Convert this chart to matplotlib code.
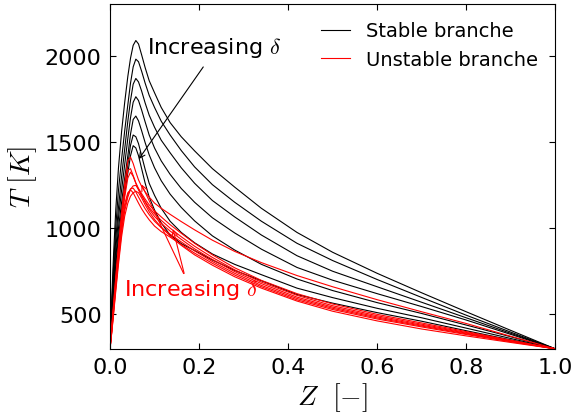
import numpy as np
import matplotlib
matplotlib.use("Agg")
import matplotlib.pyplot as plt

plt.rcParams['mathtext.fontset'] = 'cm'
plt.rcParams['font.family'] = 'DejaVu Sans'

## mixture fraction grid shared by all the flamelets
Z = [0, 0.004, 0.008, 0.013, 0.019, 0.026, 0.033, 0.04, 0.046, 0.052,
     0.058, 0.064, 0.071, 0.079, 0.088, 0.1, 0.115, 0.135, 0.16, 0.19,
     0.23, 0.28, 0.34, 0.42, 0.5, 0.6, 0.7, 0.8, 0.9, 1.0]

## stable branch temperatures (K), highest peak first
T_s1 = [300, 600, 850, 1110, 1350, 1560, 1730, 1880, 1985, 2060,
        2088, 2068, 2005, 1930, 1855, 1785, 1700, 1612, 1530, 1448,
        1345, 1238, 1115, 975, 860, 738, 625, 515, 407, 300]
T_s2 = [300, 560, 780, 1010, 1220, 1400, 1565, 1715, 1840, 1935,
        1980, 1965, 1910, 1840, 1770, 1700, 1620, 1540, 1450, 1355,
        1252, 1150, 1040, 912, 812, 702, 598, 495, 397, 300]
T_s3 = [300, 530, 730, 940, 1120, 1300, 1460, 1620, 1740, 1835,
        1868, 1848, 1795, 1725, 1655, 1585, 1510, 1437, 1350, 1260,
        1160, 1065, 960, 840, 750, 660, 570, 480, 390, 300]
T_s4 = [300, 510, 690, 880, 1060, 1220, 1370, 1520, 1640, 1730,
        1762, 1740, 1685, 1615, 1540, 1465, 1390, 1312, 1230, 1150,
        1060, 972, 878, 772, 698, 620, 545, 467, 384, 300]
T_s5 = [300, 490, 660, 830, 1000, 1150, 1290, 1420, 1545, 1630,
        1650, 1622, 1565, 1495, 1425, 1350, 1275, 1197, 1120, 1042,
        955, 873, 790, 705, 638, 568, 505, 438, 370, 300]
T_s6 = [300, 470, 630, 790, 950, 1100, 1240, 1370, 1480, 1540,
        1530, 1490, 1420, 1340, 1260, 1190, 1115, 1040, 975, 915,
        850, 790, 730, 652, 597, 535, 480, 420, 360, 300]
T_s7 = [300, 455, 605, 760, 915, 1070, 1200, 1320, 1420, 1478,
        1465, 1420, 1345, 1260, 1180, 1105, 1030, 960, 910, 870,
        815, 755, 695, 615, 565, 510, 460, 405, 352, 300]

## unstable branch temperatures (K)
T_u1 = [300, 430, 560, 720, 900, 1090, 1260, 1390, 1412, 1375,
        1325, 1280, 1242, 1210, 1180, 1145, 1115, 1080, 1038, 990,
        930, 865, 800, 725, 660, 585, 515, 447, 373, 300]
T_u2 = [300, 425, 550, 705, 880, 1060, 1220, 1335, 1345, 1305,
        1262, 1230, 1200, 1168, 1135, 1100, 1065, 1020, 970, 912,
        845, 770, 697, 620, 560, 500, 450, 400, 350, 300]
T_u3 = [300, 415, 535, 685, 855, 1030, 1180, 1290, 1325, 1300,
        1260, 1222, 1188, 1155, 1120, 1083, 1045, 1000, 950, 895,
        830, 758, 687, 610, 550, 492, 443, 395, 347, 300]
T_u4 = [300, 400, 510, 650, 810, 975, 1100, 1180, 1225, 1245,
        1248, 1225, 1190, 1150, 1110, 1068, 1028, 983, 935, 880,
        818, 748, 678, 600, 542, 485, 437, 391, 345, 300]
T_u5 = [300, 405, 520, 665, 830, 995, 1120, 1195, 1228, 1232,
        1210, 1180, 1148, 1112, 1078, 1040, 1003, 965, 920, 868,
        806, 738, 668, 592, 535, 479, 432, 387, 343, 300]
T_u6 = [300, 410, 530, 680, 850, 1015, 1140, 1205, 1222, 1205,
        1175, 1145, 1112, 1080, 1048, 1012, 980, 948, 905, 855,
        796, 728, 660, 584, 528, 473, 427, 383, 341, 300]
T_u7 = [300, 395, 500, 635, 790, 950, 1070, 1145, 1185, 1205,
        1214, 1205, 1175, 1135, 1095, 1050, 1005, 955, 900, 845,
        785, 718, 652, 577, 518, 462, 415, 375, 337, 300]

stable = [T_s1, T_s2, T_s3, T_s4, T_s5, T_s6, T_s7]
unstable = [T_u1, T_u2, T_u3, T_u4, T_u5, T_u6, T_u7]

fig = plt.figure(figsize=(5.73, 4.14), dpi=100)
ax = fig.add_axes([0.192, 0.155, 0.777, 0.833])

for i, T in enumerate(stable):
    ax.plot(Z, T, color='k', lw=0.8, label="Stable branche" if i == 0 else None)
for i, T in enumerate(unstable):
    ax.plot(Z, T, color='r', lw=0.8, label="Unstable branche" if i == 0 else None)

ax.set_xlim(0, 1)
ax.set_ylim(300, 2300)
ax.set_xticks([0.0, 0.2, 0.4, 0.6, 0.8, 1.0])
ax.set_yticks([500, 1000, 1500, 2000])
ax.tick_params(direction='in', top=True, right=True, length=4, width=0.8,
               labelsize=16, pad=6)

ax.set_xlabel(r"$Z\ \ [-]$", fontsize=20, labelpad=2)
ax.set_ylabel(r"$T\ [K]$", fontsize=20, labelpad=4)

## annotations
ax.text(0.083, 2052, r"Increasing $\delta$", fontsize=16, va='center', ha='left')
ax.annotate('', xy=(0.061, 1387), xytext=(0.213, 1948),
            arrowprops=dict(arrowstyle='->', color='k', lw=0.8))
ax.text(0.031, 647, r"Increasing $\delta$", fontsize=16, va='center', ha='left', color='r')
ax.annotate('', xy=(0.068, 1268), xytext=(0.168, 722),
            arrowprops=dict(arrowstyle='->', color='r', lw=0.8))
ax.annotate('', xy=(0.14, 1010), xytext=(0.168, 722),
            arrowprops=dict(arrowstyle='->', color='r', lw=0.8))

ax.legend(loc='upper right', frameon=False, fontsize=14, handlelength=1.5,
          borderaxespad=0.5)

fig.savefig("out.png", dpi=100)
